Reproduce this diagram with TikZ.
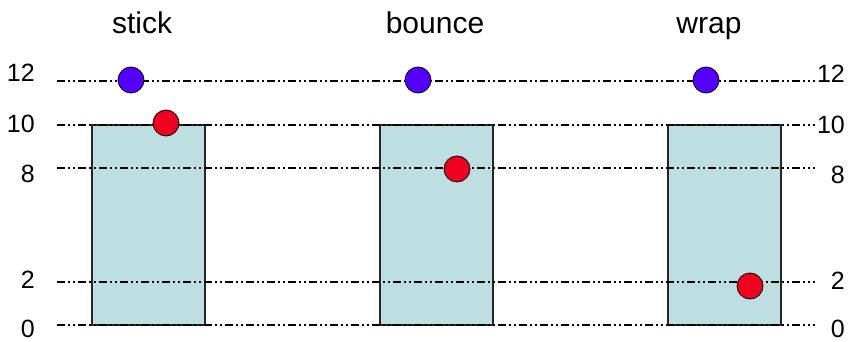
\documentclass[tikz,border=0pt]{standalone}
\usepackage{fontspec}
\setmainfont{Liberation Sans}
\definecolor{boxfill}{HTML}{BDDFE1}
\definecolor{ballblue}{HTML}{5500FF}
\definecolor{ballred}{HTML}{EE0020}
\begin{document}
\begin{tikzpicture}[x=1pt,y=-1pt,
  level/.style={line width=1.4pt,black,dash pattern=on 8pt off 3pt on 2pt off 3pt on 2pt off 3pt},
  wall/.style={draw=black!85,line width=1.3pt,fill=boxfill},
  ball/.style={circle,draw=black,line width=0.8pt,minimum size=26pt,inner sep=0pt},
  blueball/.style={ball,fill=ballblue},
  redball/.style={ball,fill=ballred},
  title/.style={anchor=base,font=\fontsize{30}{36}\selectfont},
  num/.style={anchor=base east,inner sep=0pt,font=\fontsize{25}{30}\selectfont}]
\useasboundingbox (0,0) rectangle (848,342);
% boxes
\draw[wall] (92,125) rectangle (205,325);
\draw[wall] (380,125) rectangle (493,325);
\draw[wall] (668,125) rectangle (781,325);
% level lines
\foreach \n/\y in {12/81,10/125,8/168,2/282,0/325}{
  \coordinate (a\n) at (57,\y);
  \coordinate (b\n) at (815,\y);
  \draw[level] (a\n) -- (b\n);
}
% titles
\node[title] (tstick) at (142,34) {stick};
\node[title] (tbounce) at (435,34) {bounce};
\node[title] (twrap) at (709,34) {wrap};
% left labels
\node[num] (l12) at (35,82) {12};
\node[num] (l10) at (35,132) {10};
\node[num] (l8) at (35,182) {8};
\node[num] (l2) at (35,288) {2};
\node[num] (l0) at (35,337.5) {0};
% right labels
\node[num] (r12) at (845,83) {12};
\node[num] (r10) at (845,133) {10};
\node[num] (r8) at (845,183) {8};
\node[num] (r2) at (845,289) {2};
\node[num] (r0) at (845,337.5) {0};
% balls
\node[blueball] (sb) at (131,80) {};
\node[redball] (sr) at (166,123) {};
\node[blueball] (bb) at (418,80) {};
\node[redball] (br) at (457,169) {};
\node[blueball] (wb) at (706,80) {};
\node[redball] (wr) at (750,286) {};
\end{tikzpicture}
\end{document}
